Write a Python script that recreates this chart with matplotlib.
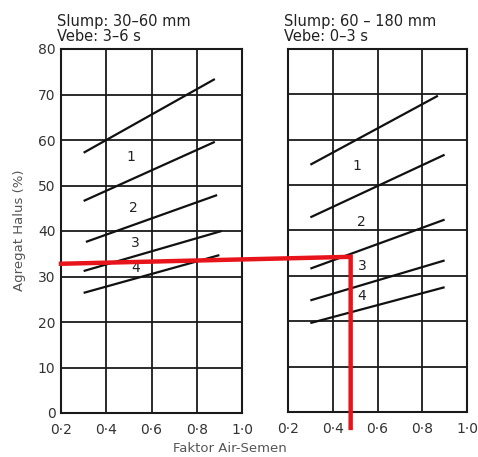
import matplotlib
matplotlib.use("Agg")
import matplotlib.pyplot as plt
from matplotlib.lines import Line2D

# Data
x_ticks = [0.2, 0.4, 0.6, 0.8, 1.0]
x_tick_labels = ["0·2", "0·4", "0·6", "0·8", "1·0"]
y_ticks = [0, 10, 20, 30, 40, 50, 60, 70, 80]
y_tick_labels = ["0", "10", "20", "30", "40", "50", "60", "70", "80"]

# boundary lines (start x, start y, end x, end y) per panel
left_x_start = [0.30, 0.30, 0.31, 0.30, 0.30]
left_y_start = [57.2, 46.6, 37.6, 31.2, 26.4]
left_x_end = [0.88, 0.88, 0.89, 0.91, 0.90]
left_y_end = [73.4, 59.6, 47.9, 40.0, 34.7]

right_x_start = [0.30, 0.30, 0.30, 0.30, 0.30]
right_y_start = [54.5, 42.9, 31.6, 24.6, 19.6]
right_x_end = [0.87, 0.90, 0.90, 0.90, 0.90]
right_y_end = [69.7, 56.7, 42.4, 33.4, 27.5]

zone_labels = ["1", "2", "3", "4"]
left_label_x = [0.51, 0.52, 0.53, 0.53]
left_label_y = [56.3, 45.0, 37.4, 31.9]
right_label_x = [0.51, 0.53, 0.53, 0.53]
right_label_y = [54.3, 41.8, 32.1, 25.5]

titles = ["Slump: 30–60 mm\nVebe: 3–6 s", "Slump: 60 – 180 mm\nVebe: 0–3 s"]

# red reading path
red_left_y = 32.8      # start at left edge of left panel
red_right_x = 0.48     # corner in right panel
red_right_y = 34.2
red_bottom_y = -3.5

fig = plt.figure(figsize=(4.78, 4.57), dpi=100)
ax1 = fig.add_axes([61/478, 1 - 413/457, 181/478, 364/457])
ax2 = fig.add_axes([288/478, 1 - 412/457, 179/478, 363/457])

for ax, xs, ys, xe, ye, lx, ly, title in [
    (ax1, left_x_start, left_y_start, left_x_end, left_y_end, left_label_x, left_label_y, titles[0]),
    (ax2, right_x_start, right_y_start, right_x_end, right_y_end, right_label_x, right_label_y, titles[1]),
]:
    ax.set_xlim(0.2, 1.0)
    ax.set_ylim(0, 80)
    ax.set_xticks(x_ticks)
    ax.set_xticklabels(x_tick_labels, fontsize=10, color="#333333")
    ax.set_yticks(y_ticks)
    ax.tick_params(length=0)
    ax.tick_params(axis="x", pad=7)
    ax.tick_params(axis="y", pad=4)
    ax.grid(True, color="#1a1a1a", linewidth=1.3)
    ax.set_axisbelow(True)
    for s in ax.spines.values():
        s.set_color("#1a1a1a")
        s.set_linewidth(1.5)
    for a, b, c, d in zip(xs, ys, xe, ye):
        ax.plot([a, c], [b, d], color="#111111", linewidth=1.6, solid_capstyle="butt")
    for t, x, y in zip(zone_labels, lx, ly):
        ax.text(x, y, t, fontsize=10, ha="center", va="center", color="#222222")
    ax.text(-0.02, 1.015, title, transform=ax.transAxes, fontsize=10.5,
            ha="left", va="bottom", color="#222222", linespacing=0.95)

ax1.set_yticklabels(y_tick_labels, fontsize=10, color="#333333")
ax2.set_yticklabels([])

fig.text(230/478, 1 - 449/457, "Faktor Air-Semen", fontsize=9.5, color="#555555",
         ha="center", va="center")
fig.text(20/478, 1 - 230/457, "Agregat Halus (%)", fontsize=9.5, color="#555555",
         ha="center", va="center", rotation=90)

# red path across panels
p0 = ax1.transData.transform((0.2, red_left_y))
p1 = ax2.transData.transform((red_right_x, red_right_y))
p2 = ax2.transData.transform((red_right_x, red_bottom_y))
inv = fig.transFigure.inverted()
f0, f1, f2 = inv.transform(p0), inv.transform(p1), inv.transform(p2)
fig.add_artist(Line2D([f0[0], f1[0], f2[0]], [f0[1], f1[1], f2[1]],
                      transform=fig.transFigure, color="#e8141b", linewidth=3.2,
                      solid_joinstyle="miter"))

fig.savefig("out.png", dpi=100)
